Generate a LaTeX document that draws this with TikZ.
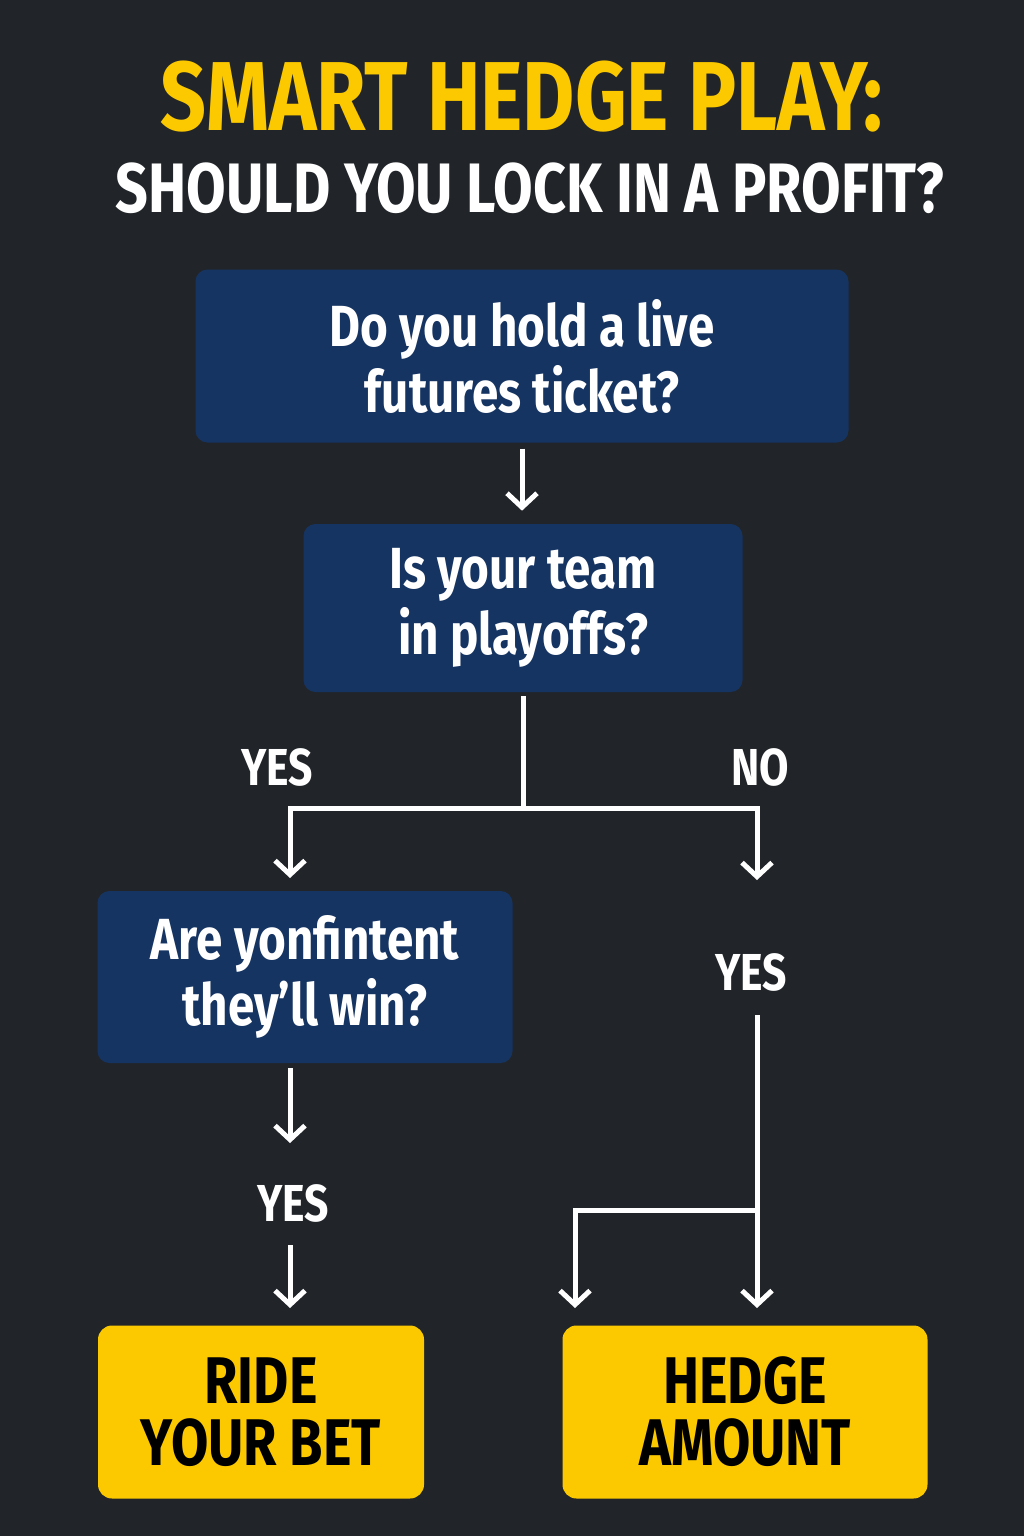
\documentclass[tikz,border=0pt]{standalone}
\usepackage{fontspec}
\setmainfont{Fira Sans}[FakeStretch=0.82]
\usetikzlibrary{arrows.meta}
\definecolor{bg}{RGB}{33,37,41}
\definecolor{navy}{RGB}{22,52,98}
\definecolor{gold}{RGB}{252,201,0}
\tikzset{
  qbox/.style={fill=navy,rounded corners=12pt,text=white,font=\fontsize{58}{66}\selectfont\bfseries,align=center},
  abox/.style={fill=gold,rounded corners=14pt,text=black,font=\fontsize{66}{62}\selectfont\bfseries,align=center},
  lab/.style={text=white,font=\fontsize{52}{60}\selectfont\bfseries},
  wire/.style={draw=white,line width=5pt},
  arr/.style={wire,-{Straight Barb[length=14pt,width=30pt,line width=5pt]}}
}
\begin{document}
\begin{tikzpicture}[x=1pt,y=-1pt]
\fill[bg] (0,0) rectangle (1024,1536);
\useasboundingbox (0,0) rectangle (1024,1536);
\node[text=gold,font=\fontsize{98}{100}\selectfont\bfseries] (t1) at (522,97) {SMART HEDGE PLAY:};
\node[text=white,font=\fontsize{70}{72}\selectfont\bfseries] (t2) at (530,188) {SHOULD YOU LOCK IN A PROFIT?};
\node[qbox,minimum width=653pt,minimum height=173pt] (b1) at (522,356) {Do you hold a live\\futures ticket?};
\node[qbox,minimum width=439pt,minimum height=168pt] (b2) at (523,608) {Is your team\\in playoffs?};
\node[qbox,minimum width=415pt,minimum height=172pt] (b3) at (305,977) {Are yonfintent\\they'll win?};
\node[abox,minimum width=326pt,minimum height=173pt] (b4) at (261,1412) {RIDE\\YOUR BET};
\node[abox,minimum width=365pt,minimum height=173pt] (b5) at (745,1412) {HEDGE\\AMOUNT};
\node[lab] (y1) at (277,767) {YES};
\node[lab] (n1) at (760,767) {NO};
\node[lab] (y2) at (293,1203) {YES};
\node[lab] (y3) at (751,972) {YES};
\coordinate (j1) at (523,808);
\coordinate (jl) at (290,808);
\coordinate (jr) at (757,808);
\coordinate (j2) at (757,1210);
\coordinate (j2l) at (575,1210);
\draw[arr] (b1.south) ++(0,6) -- ++(0,62);
\draw[wire] (b2.south) ++(0,4) -- (j1);
\draw[wire,line cap=rect] (jl) -- (jr);
\draw[arr] (jl) -- (290,878);
\draw[arr] (jr) -- (757,880);
\draw[arr] (b3.south) ++(-15,5) -- (290,1143);
\draw[arr] (290,1245) -- (290,1308);
\draw[arr] (757,1015) -- (757,1308);
\draw[wire,line cap=rect] (j2) -- (j2l);
\draw[arr] (j2l) -- (575,1308);
\end{tikzpicture}
\end{document}
